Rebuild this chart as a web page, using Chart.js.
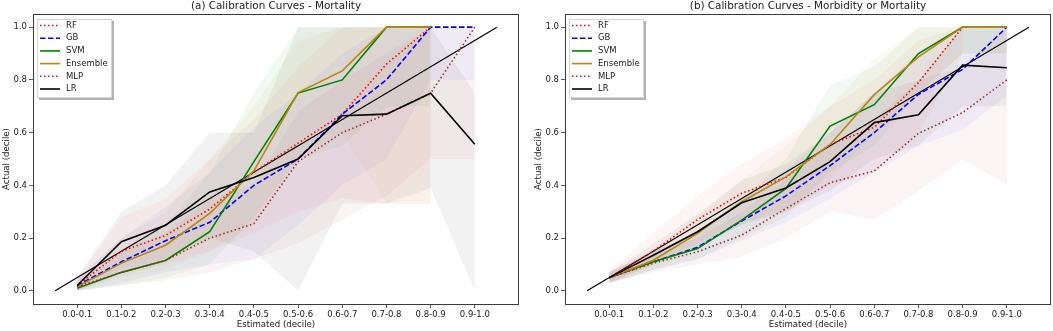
<!DOCTYPE html>
<html><head><meta charset="utf-8">
<script src="https://cdn.jsdelivr.net/npm/chart.js@4/dist/chart.umd.min.js"></script>
<style>
html,body{margin:0;padding:0;background:#fff;overflow:hidden;width:1053px;height:331px}
canvas{position:absolute;top:0}
#c1{left:0}
#c2{left:532px}
</style></head>
<body>
<canvas id="c1" width="526" height="331"></canvas>
<canvas id="c2" width="521" height="331"></canvas>
<script>
// ---------- data ----------
const categories = ['0.0-0.1','0.1-0.2','0.2-0.3','0.3-0.4','0.4-0.5','0.5-0.6','0.6-0.7','0.7-0.8','0.8-0.9','0.9-1.0'];
const yTicks = [0.0, 0.2, 0.4, 0.6, 0.8, 1.0];
const diagX = [-0.5, 9.5];
const diagY = [0, 1];
const seriesNames = ['RF','GB','SVM','Ensemble','MLP','LR'];

// (a) Mortality
const mortRF   = [0.02, 0.15, 0.21, 0.31, 0.45, 0.56, 0.67, 0.86, 1.0];
const mortGB   = [0.02, 0.11, 0.19, 0.26, 0.40, 0.50, 0.67, 0.80, 1.0, 1.0];
const mortSVM  = [0.01, 0.07, 0.115, 0.224, 0.49, 0.75, 0.80, 1.0, 1.0];
const mortEns  = [0.015, 0.105, 0.173, 0.294, 0.455, 0.752, 0.834, 1.0, 1.0];
const mortMLP  = [0.015, 0.07, 0.115, 0.20, 0.255, 0.49, 0.60, 0.67, 0.75, 1.0];
const mortLR   = [0.02, 0.186, 0.249, 0.375, 0.43, 0.50, 0.664, 0.67, 0.749, 0.556];
const mortRFLow   = [0.0, 0.06, 0.10, 0.15, 0.22, 0.30, 0.35, 0.33, 0.33];
const mortRFHigh  = [0.05, 0.28, 0.35, 0.50, 0.65, 0.85, 1.0, 1.0, 1.0];
const mortGBLow   = [0.0, 0.03, 0.07, 0.10, 0.12, 0.25, 0.40, 0.50, 0.80, 0.80];
const mortGBHigh  = [0.05, 0.20, 0.32, 0.45, 0.62, 0.75, 0.90, 1.0, 1.0, 1.0];
const mortSVMLow  = [0.0, 0.02, 0.05, 0.10, 0.28, 0.50, 0.55, 0.70, 0.70];
const mortSVMHigh = [0.03, 0.15, 0.25, 0.45, 0.75, 1.0, 1.0, 1.0, 1.0];
const mortEnsLow  = [0.0, 0.05, 0.08, 0.15, 0.25, 0.50, 0.60, 0.33, 0.33];
const mortEnsHigh = [0.04, 0.20, 0.30, 0.50, 0.70, 0.95, 1.0, 1.0, 1.0];
const mortMLPLow  = [0.0, 0.02, 0.04, 0.07, 0.12, 0.18, 0.27, 0.36, 0.50, 0.50];
const mortMLPHigh = [0.04, 0.15, 0.22, 0.35, 0.40, 0.68, 0.80, 0.90, 1.0, 1.0];
const mortLRLow   = [0.0, 0.08, 0.12, 0.20, 0.15, 0.0, 0.33, 0.33, 0.39, 0.0];
const mortLRHigh  = [0.05, 0.30, 0.40, 0.60, 0.60, 1.0, 1.0, 1.0, 1.0, 0.75];

// (b) Morbidity or Mortality
const morbRF   = [0.05, 0.15, 0.27, 0.37, 0.43, 0.555, 0.62, 0.79, 1.0];
const morbGB   = [0.05, 0.11, 0.165, 0.265, 0.36, 0.475, 0.60, 0.745, 0.84, 1.0];
const morbSVM  = [0.05, 0.11, 0.16, 0.268, 0.388, 0.625, 0.706, 0.90, 1.0, 1.0];
const morbEns  = [0.05, 0.116, 0.218, 0.338, 0.432, 0.555, 0.744, 0.887, 1.0, 1.0];
const morbMLP  = [0.05, 0.105, 0.148, 0.211, 0.312, 0.41, 0.455, 0.597, 0.676, 0.80];
const morbLR   = [0.05, 0.135, 0.224, 0.334, 0.39, 0.49, 0.638, 0.668, 0.856, 0.846];
const morbRFLow   = [0.03, 0.10, 0.18, 0.26, 0.30, 0.40, 0.45, 0.60, 0.90];
const morbRFHigh  = [0.08, 0.22, 0.36, 0.48, 0.58, 0.70, 0.80, 0.95, 1.0];
const morbGBLow   = [0.03, 0.08, 0.12, 0.19, 0.26, 0.35, 0.45, 0.55, 0.61, 0.74];
const morbGBHigh  = [0.07, 0.15, 0.22, 0.35, 0.46, 0.60, 0.75, 0.90, 1.0, 1.0];
const morbSVMLow  = [0.03, 0.08, 0.12, 0.20, 0.28, 0.45, 0.55, 0.75, 0.90, 0.90];
const morbSVMHigh = [0.07, 0.15, 0.22, 0.35, 0.50, 0.78, 0.85, 1.0, 1.0, 1.0];
const morbEnsLow  = [0.03, 0.08, 0.16, 0.25, 0.32, 0.42, 0.60, 0.75, 0.90, 0.90];
const morbEnsHigh = [0.07, 0.16, 0.28, 0.42, 0.55, 0.70, 0.88, 1.0, 1.0, 1.0];
const morbMLPLow  = [0.03, 0.07, 0.10, 0.13, 0.20, 0.30, 0.27, 0.38, 0.50, 0.40];
const morbMLPHigh = [0.07, 0.14, 0.20, 0.30, 0.42, 0.55, 0.65, 0.80, 0.85, 1.0];
const morbLRLow   = [0.03, 0.10, 0.17, 0.25, 0.30, 0.38, 0.50, 0.55, 0.70, 0.70];
const morbLRHigh  = [0.07, 0.18, 0.29, 0.42, 0.48, 0.60, 0.75, 0.80, 1.0, 1.0];

// ---------- styles ----------
const FONT = 'DejaVu Sans';
const TEXT = '#222';
const style = {
  RF:       {color:'#ff0000', dash:[1.5,2.5], band:'rgba(255,0,0,0.04)'},
  GB:       {color:'#0000ff', dash:[5.5,2.5], band:'rgba(0,0,255,0.04)'},
  SVM:      {color:'#008000', dash:[],        band:'rgba(0,128,0,0.05)'},
  Ensemble: {color:'#b8860b', dash:[],        band:'rgba(184,134,11,0.05)'},
  MLP:      {color:'#a52a2a', dash:[1.5,2.5], band:'rgba(165,42,42,0.05)'},
  LR:       {color:'#000000', dash:[],        band:'rgba(0,0,0,0.05)'}
};
const pts = arr => arr.map((v,i)=>({x:i, y:v}));

const frameLegend = {
  id:'frameLegend',
  afterDraw(chart){
    const ctx = chart.ctx, ca = chart.chartArea;
    ctx.save();
    ctx.strokeStyle = '#3a3a3a'; ctx.lineWidth = 1;
    ctx.strokeRect(Math.round(ca.left)+0.5, Math.round(ca.top)+0.5, Math.round(ca.right-ca.left)-1, Math.round(ca.bottom-ca.top));
    // legend
    const x0 = Math.round(ca.left)+4, y0 = Math.round(ca.top)+5, w = 75, h = 79;
    ctx.fillStyle = 'rgba(0,0,0,0.3)';
    ctx.fillRect(x0+2, y0+2, w, h);
    ctx.fillStyle = '#fff';
    ctx.fillRect(x0, y0, w, h);
    ctx.strokeStyle = '#cccccc'; ctx.lineWidth = 0.8;
    ctx.strokeRect(x0+0.5, y0+0.5, w-1, h-1);
    const items = chart.data.datasets.filter(d => d.inLegend);
    ctx.font = '8.5px "' + FONT + '"';
    ctx.textBaseline = 'middle';
    items.forEach((d,k) => {
      const y = y0 + 6.5 + k*12.7;
      ctx.strokeStyle = d.borderColor; ctx.lineWidth = 1.6;
      ctx.setLineDash(d.borderDash || []);
      ctx.beginPath(); ctx.moveTo(x0+3, y); ctx.lineTo(x0+23, y); ctx.stroke();
      ctx.setLineDash([]);
      ctx.fillStyle = TEXT;
      ctx.fillText(d.label, x0+29, y);
    });
    ctx.restore();
  }
};

function makeChart(id, title, lines, lows, highs, rightPad){
  const datasets = [];
  seriesNames.forEach((s,k) => {
    datasets.push({label:s+' low', data:pts(lows[k]), borderWidth:0, pointRadius:0, fill:false, order:100, borderColor:'rgba(0,0,0,0)'});
    datasets.push({label:s+' high', data:pts(highs[k]), borderWidth:0, pointRadius:0, fill:'-1', backgroundColor:style[s].band, order:100, borderColor:'rgba(0,0,0,0)'});
  });
  datasets.push({label:'diag', data:diagX.map((x,i)=>({x, y:diagY[i]})), borderColor:'#000', borderWidth:1.2, pointRadius:0, fill:false, order:50});
  seriesNames.forEach((s,k) => {
    datasets.push({label:s, inLegend:true, data:pts(lines[k]), borderColor:style[s].color, borderDash:style[s].dash,
      borderWidth:1.6, pointRadius:0, fill:false, order:10-k, tension:0});
  });
  return new Chart(document.getElementById(id), {
    type:'line',
    data:{datasets},
    plugins:[frameLegend],
    options:{
      responsive:false, animation:false, devicePixelRatio:1,
      layout:{padding:{left:0, right:rightPad, top:0, bottom:0}},
      plugins:{
        legend:{display:false}, tooltip:{enabled:false},
        title:{display:true, text:title, fullSize:false, color:TEXT,
          font:{family:FONT, size:10.4, weight:'normal'}, padding:{top:0, bottom:1.5}}
      },
      scales:{
        x:{type:'linear', min:-1, max:10,
          afterBuildTicks: s => { s.ticks = categories.map((_,i)=>({value:i})); },
          afterFit: s => { s.height = 27; },
          ticks:{callback: v => categories[v] ?? '', color:TEXT, font:{family:FONT, size:8.5}, padding:2, maxRotation:0, autoSkip:false},
          grid:{display:true, drawOnChartArea:false, drawTicks:true, tickLength:4, color:'#333', tickWidth:0.8},
          border:{display:false},
          title:{display:true, text:'Estimated (decile)', color:TEXT, font:{family:FONT, size:8.6}, padding:{top:0, bottom:1}}
        },
        y:{type:'linear', min:-0.05, max:1.05,
          afterBuildTicks: s => { s.ticks = yTicks.map(v=>({value:v})); },
          afterFit: s => { s.width = 33; },
          ticks:{callback: v => Number(v).toFixed(1), color:TEXT, font:{family:FONT, size:8.5}, padding:2},
          grid:{display:true, drawOnChartArea:false, drawTicks:true, tickLength:4, color:'#333', tickWidth:0.8},
          border:{display:false},
          title:{display:true, text:'Actual (decile)', color:TEXT, font:{family:FONT, size:8.6}, padding:{top:2, bottom:0}}
        }
      }
    }
  });
}

makeChart('c1', '(a) Calibration Curves - Mortality',
  [mortRF, mortGB, mortSVM, mortEns, mortMLP, mortLR],
  [mortRFLow, mortGBLow, mortSVMLow, mortEnsLow, mortMLPLow, mortLRLow],
  [mortRFHigh, mortGBHigh, mortSVMHigh, mortEnsHigh, mortMLPHigh, mortLRHigh], 7);
makeChart('c2', '(b) Calibration Curves - Morbidity or Mortality',
  [morbRF, morbGB, morbSVM, morbEns, morbMLP, morbLR],
  [morbRFLow, morbGBLow, morbSVMLow, morbEnsLow, morbMLPLow, morbLRLow],
  [morbRFHigh, morbGBHigh, morbSVMHigh, morbEnsHigh, morbMLPHigh, morbLRHigh], 2);
</script>
</body></html>
